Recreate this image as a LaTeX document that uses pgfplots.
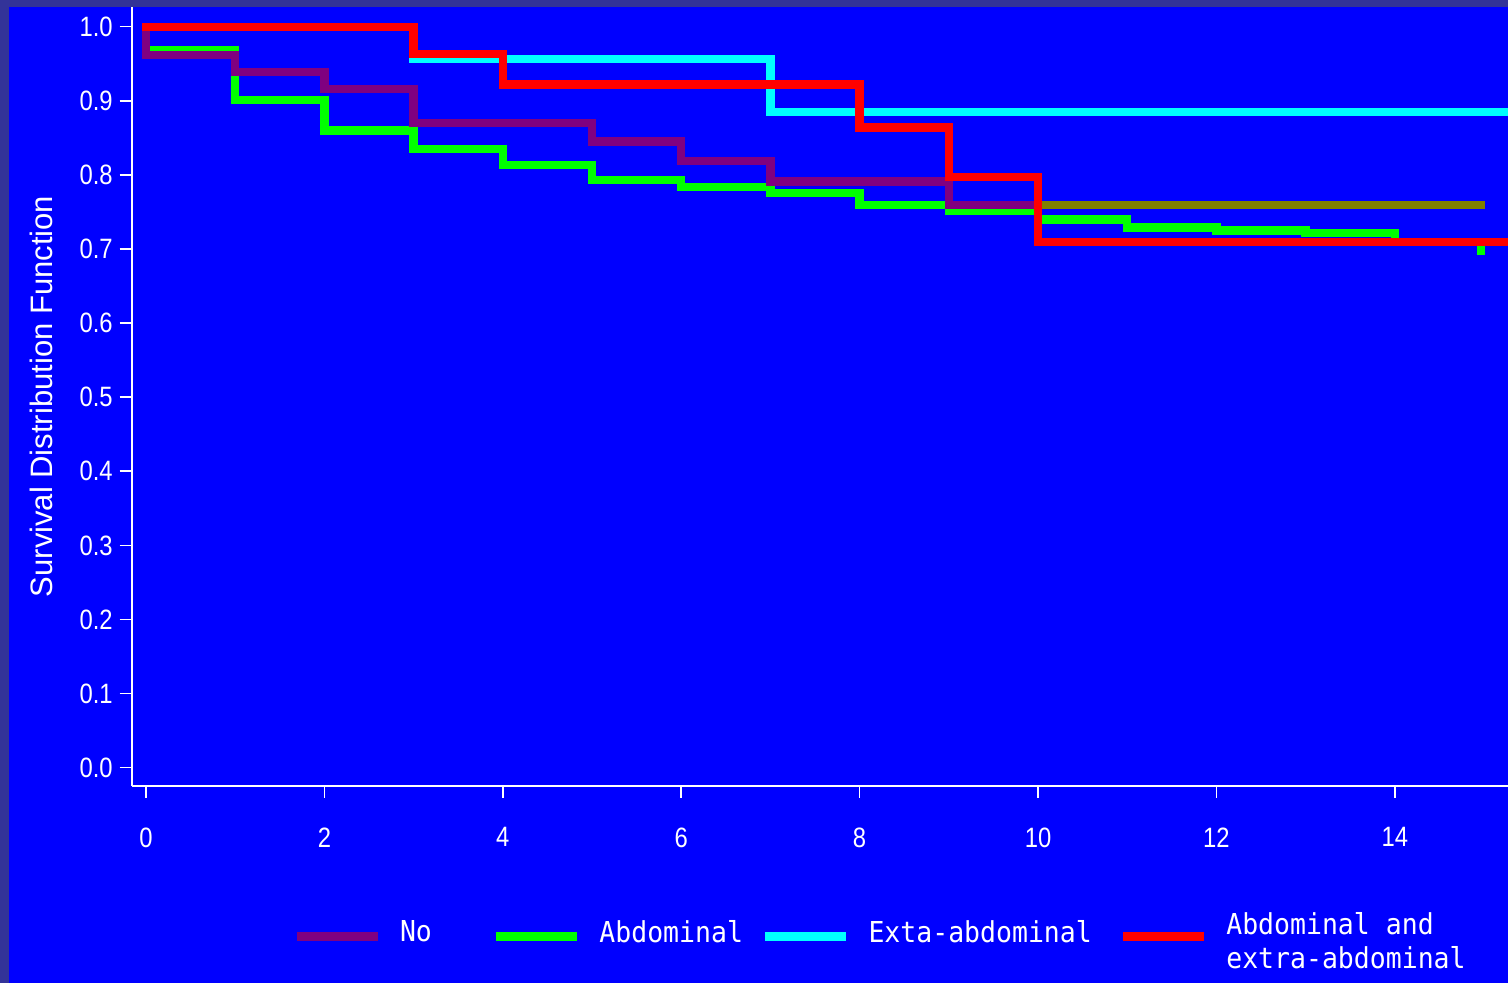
\documentclass[border=0pt]{standalone}
\usepackage{pgfplots}
\pgfplotsset{compat=1.18}
\usepackage{fontspec}
\setmainfont{Liberation Sans}
\newfontfamily\tickfont[FakeStretch=0.85]{Liberation Sans}
\newfontfamily\legfont[FakeStretch=0.92]{DejaVu Sans Mono}
\definecolor{bgblue}{RGB}{0,0,255}
\definecolor{framec}{RGB}{51,51,153}
\definecolor{kmpurple}{RGB}{128,0,128}
\definecolor{kmgreen}{RGB}{0,255,0}
\definecolor{kmcyan}{RGB}{0,255,255}
\definecolor{kmred}{RGB}{255,0,0}
\definecolor{kmolive}{RGB}{128,128,0}
\begin{document}
\begin{tikzpicture}
\fill[bgblue] (0,0) rectangle (754pt,491.5pt);
\fill[framec] (0,0) rectangle (4.5pt,491.5pt);
\fill[framec] (0,488pt) rectangle (754pt,491.5pt);
\begin{axis}[
  at={(65.85pt,98.5pt)}, anchor=south west,
  scale only axis, width=688.15pt, height=389.5pt,
  xmin=-0.16, xmax=15.269, ymin=-0.0247, ymax=1.0266,
  axis lines*=left, axis line style={white, line width=1pt},
  tick align=outside, major tick length=6pt,
  tick style={white, line width=0.8pt},
  xtick={0,2,4,6,8,10,12,14},
  ytick={0,0.1,0.2,0.3,0.4,0.5,0.6,0.7,0.8,0.9,1.0},
  /pgf/number format/assume math mode=true,
  ticklabel style={font=\fontsize{14}{14}\tickfont, text=white},
  yticklabel style={/pgf/number format/.cd, fixed, fixed zerofill, precision=1},
  xticklabel style={yshift=-11.3pt},
  ylabel={Survival Distribution Function},
  ylabel style={at={(axis description cs:-0.0654,0.5)}, anchor=center, font=\fontsize{15.5}{15.5}\selectfont, text=white},
  legend style={draw=none, fill=none, inner sep=0pt, outer sep=0pt,
    at={(axis description cs:0.1165,-0.1887)}, anchor=west,
    font=\fontsize{14.4}{17}\legfont, text=white,
    /tikz/every odd column/.append style={column sep=9pt},
    /tikz/every even column/.append style={column sep=8.75pt},
    nodes={inner sep=0pt}},
  legend columns=4,
  legend image code/.code={\draw[#1, line width=4.5pt, line cap=butt] (0pt,-2pt) -- (40.5pt,-2pt);},
  every axis plot/.append style={const plot, line join=miter, line cap=rect, line width=4.15pt},
]
\addplot[kmgreen, forget plot] coordinates {
  (0,1.0) (0,0.968) (1,0.901) (2,0.860) (3,0.835) (4,0.813) (5,0.793) (6,0.784)
  (7,0.776) (8,0.759) (9,0.752) (10,0.740) (11,0.729) (12,0.725) (13,0.722)
  (14,0.709) (14.97,0.698)};
\addplot[kmpurple, forget plot] coordinates {
  (0,1.0) (0,0.962) (1,0.939) (2,0.916) (3,0.870) (5,0.845) (6,0.819)
  (7,0.791) (9,0.759) (10,0.759)};
\addplot[kmolive, forget plot] coordinates {(10,0.759) (14.97,0.759)};
\addplot[kmcyan, forget plot] coordinates {(0,1.0) (3,0.956) (7,0.885) (15.6,0.885)};
\addplot[kmred, forget plot] coordinates {
  (0,1.0) (3,0.963) (4,0.922) (8,0.864) (9,0.797) (10,0.709) (15.6,0.709)};
\addlegendimage{kmpurple}
\addlegendentry{No\hspace*{21pt}}
\addlegendimage{kmgreen}
\addlegendentry{Abdominal}
\addlegendimage{kmcyan}
\addlegendentry{Exta-abdominal\hspace*{4.5pt}}
\addlegendimage{kmred}
\addlegendentry{\begin{tabular}{@{}l@{}}Abdominal and\\extra-abdominal\end{tabular}}
\end{axis}
\pgfresetboundingbox
\path[use as bounding box] (0,0) rectangle (754pt,491.5pt);
\end{tikzpicture}
\end{document}
